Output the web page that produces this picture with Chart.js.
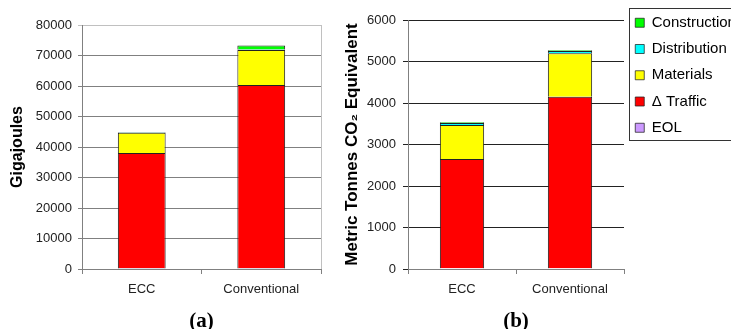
<!DOCTYPE html>
<html>
<head>
<meta charset="utf-8">
<script src="https://cdn.jsdelivr.net/npm/chart.js@4"></script>
<style>
  html, body { margin: 0; padding: 0; background: #fff; overflow: hidden; }
  body { width: 731px; height: 329px; position: relative; }
  canvas { position: absolute; top: 0; }
  #energy { left: 0; }
  #carbon { left: 335px; }
</style>
</head>
<body>
<canvas id="energy" width="335" height="329"></canvas>
<canvas id="carbon" width="396" height="329"></canvas>
<script>
// Life-cycle phases, stacked bottom to top
const categories = ['ECC', 'Conventional'];
const phaseNames = ['EOL', '\u0394 Traffic', 'Materials', 'Distribution', 'Construction'];
const phaseColors = ['#cc99ff', '#ff0000', '#ffff00', '#00ffff', '#00ff00'];

// (a) primary energy, gigajoules
const energyEOL = [300, 300];
const energyTraffic = [37700, 60000];
const energyMaterials = [6700, 11500];
const energyDistribution = [100, 150];
const energyConstruction = [100, 1300];

// (b) global warming potential, metric tonnes CO2 equivalent
const carbonEOL = [20, 20];
const carbonTraffic = [2630, 4130];
const carbonMaterials = [820, 1050];
const carbonDistribution = [50, 55];
const carbonConstruction = [15, 15];

// Axis ranges and tick steps
const energyTicks = { min: 0, max: 80000, step: 10000 };
const carbonTicks = { min: 0, max: 6000, step: 1000 };

Chart.defaults.font.family = '"Liberation Sans", Arial, sans-serif';
Chart.defaults.color = '#222';
Chart.defaults.animation = false;

function makeDatasets(series, barPct) {
  return series.map((values, i) => ({
    label: phaseNames[i],
    data: values,
    backgroundColor: phaseColors[i],
    borderColor: '#222',
    borderWidth: { top: 1, left: 1, right: 1, bottom: 0 },
    borderSkipped: false,
    categoryPercentage: 1,
    barPercentage: barPct
  }));
}

const plainNumber = { useGrouping: false };
const serifTitle = { family: '"Liberation Serif", "Times New Roman", serif', size: 21, weight: 'bold', lineHeight: 1 };

// Legend frame drawn around the library legend
const legendFrame = {
  id: 'legendFrame',
  afterDraw(chart) {
    const lg = chart.legend;
    if (!lg || !lg.options.display) return;
    const ctx = chart.ctx;
    ctx.save();
    ctx.strokeStyle = '#333';
    ctx.lineWidth = 1;
    ctx.strokeRect(294.5, 8.5, chart.width, 132);
    ctx.restore();
  }
};

// (a) Energy chart
new Chart(document.getElementById('energy'), {
  type: 'bar',
  data: {
    labels: categories,
    datasets: makeDatasets([energyEOL, energyTraffic, energyMaterials, energyDistribution, energyConstruction], 0.40)
  },
  options: {
    responsive: false,
    layout: { padding: { left: 0, right: 14, top: 25, bottom: 0 } },
    plugins: { legend: { display: false }, tooltip: { enabled: false } },
    scales: {
      x: {
        stacked: true,
        afterFit(scale) { scale.height = 60; },
        grid: {
          offset: true,
          drawOnChartArea: true,
          color: (ctx) => ctx.type === 'tick' ? 'rgba(0,0,0,0)' : '#c0c0c0',
          tickColor: '#808080',
          tickLength: 5
        },
        border: { color: '#808080', width: 1 },
        ticks: { padding: 8, font: { size: 13 }, color: '#222' },
        title: { display: true, text: '(a)', font: serifTitle, color: '#000', padding: { top: 0, bottom: -3 } }
      },
      y: {
        stacked: true,
        min: energyTicks.min,
        max: energyTicks.max,
        afterFit(scale) { scale.width = 82; },
        grid: {
          color: (ctx) => (ctx.tick && ctx.tick.value === energyTicks.max) ? '#c0c0c0' : '#808080',
          tickLength: 4
        },
        border: { color: '#808080', width: 1 },
        ticks: { stepSize: energyTicks.step, format: plainNumber, padding: 6, font: { size: 13 }, color: '#222' },
        title: { display: true, text: 'Gigajoules', font: { size: 16, weight: 'bold', lineHeight: 1 }, color: '#000', padding: { top: 10, bottom: 0 } }
      }
    }
  }
});

// (b) Carbon chart
new Chart(document.getElementById('carbon'), {
  type: 'bar',
  data: {
    labels: categories,
    datasets: makeDatasets([carbonEOL, carbonTraffic, carbonMaterials, carbonDistribution, carbonConstruction], 0.41)
  },
  options: {
    responsive: false,
    layout: { padding: { left: 0, right: 0, top: 4, bottom: 0 } },
    plugins: {
      title: { display: true, text: '', padding: 0, font: { size: 16, lineHeight: 1 } },
      tooltip: { enabled: false },
      legend: {
        display: true,
        position: 'right',
        align: 'start',
        reverse: true,
        maxWidth: 107,
        labels: { boxWidth: 9, boxHeight: 9, padding: 11.25, color: '#000', font: { size: 15 } }
      }
    },
    scales: {
      x: {
        stacked: true,
        afterFit(scale) { scale.height = 60; },
        grid: { offset: true, drawOnChartArea: false, tickColor: '#808080', tickLength: 5 },
        border: { color: '#808080', width: 1 },
        ticks: { padding: 8, font: { size: 13 }, color: '#222' },
        title: { display: true, text: '(b)', font: serifTitle, color: '#000', padding: { top: 0, bottom: -3 } }
      },
      y: {
        stacked: true,
        min: carbonTicks.min,
        max: carbonTicks.max,
        afterFit(scale) { scale.width = 73; },
        grid: { color: '#222', tickLength: 5 },
        border: { color: '#808080', width: 1 },
        ticks: { stepSize: carbonTicks.step, format: plainNumber, padding: 7, font: { size: 13 }, color: '#222' },
        title: { display: true, text: 'Metric Tonnes CO\u2082 Equivalent', font: { size: 17, weight: 'bold', lineHeight: 1 }, color: '#000', padding: { top: 9, bottom: 0 } }
      }
    }
  },
  plugins: [legendFrame]
});
</script>
</body>
</html>
